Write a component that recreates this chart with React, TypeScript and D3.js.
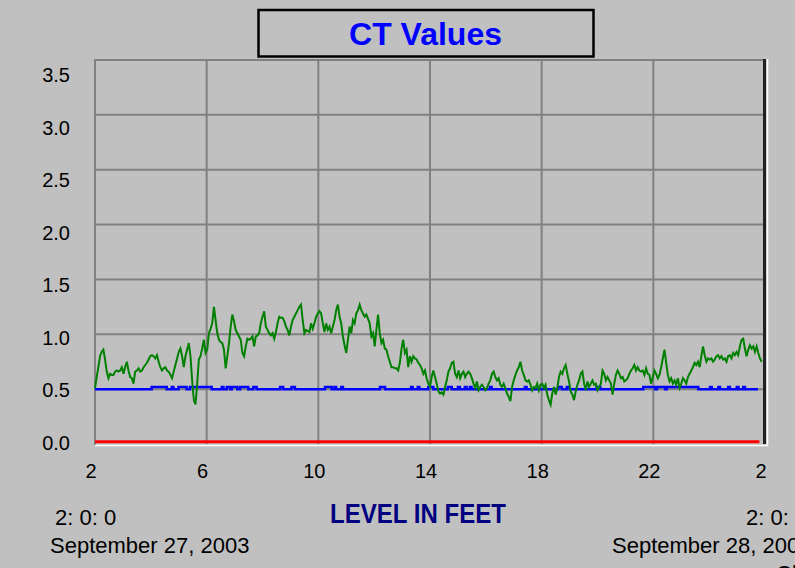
import React, { useEffect, useRef } from 'react';
import * as d3 from 'd3';

// axis ticks
const yTicks = [0, 0.5, 1, 1.5, 2, 2.5, 3, 3.5];
const xTicks = [2, 6, 10, 14, 18, 22, 26];
const xTickLabels = ['2', '6', '10', '14', '18', '22', '2'];

// text
const chartTitle = 'CT Values';
const xTitle = 'LEVEL IN FEET';
const startTime = '2: 0: 0';
const startDate = 'September 27, 2003';
const endTime = '2: 0: 0';
const endDate = 'September 28, 2003';

// green series: one sample every 3.6 minutes from 2:00
const sampleStart = 2;
const sampleStep = 0.06;
const greenValues = [
  0.51, 0.61, 0.70, 0.80, 0.84, 0.86, 0.77, 0.66, 0.60, 0.64,
  0.63, 0.63, 0.66, 0.67, 0.66, 0.67, 0.70, 0.64, 0.70, 0.75,
  0.67, 0.61, 0.60, 0.55, 0.66, 0.67, 0.69, 0.66, 0.67, 0.70,
  0.72, 0.74, 0.77, 0.80, 0.81, 0.80, 0.78, 0.81, 0.75, 0.70,
  0.67, 0.69, 0.70, 0.67, 0.66, 0.63, 0.60, 0.66, 0.72, 0.78,
  0.84, 0.87, 0.80, 0.70, 0.80, 0.86, 0.92, 0.80, 0.58, 0.40,
  0.36, 0.55, 0.77, 0.80, 0.87, 0.95, 0.83, 0.86, 1.01, 1.05,
  1.10, 1.25, 1.13, 1.01, 0.95, 0.93, 0.92, 0.86, 0.69, 0.80,
  0.92, 1.07, 1.18, 1.12, 1.04, 1.01, 0.98, 0.95, 0.83, 0.80,
  0.89, 0.96, 0.95, 0.96, 0.98, 0.89, 0.98, 0.99, 1.01, 1.10,
  1.16, 1.21, 1.07, 1.04, 1.01,
  0.99, 1.01, 0.96, 1.02, 1.10, 1.16, 1.15, 1.15, 1.12, 1.07,
  1.04, 0.99, 1.07, 1.13, 1.16, 1.19, 1.22, 1.25, 1.27, 1.13,
  1.01, 1.04, 1.03, 1.02, 1.10, 1.05, 1.10, 1.16, 1.19, 1.21,
  1.19, 1.10, 1.02, 1.10, 1.04, 1.07, 1.01, 1.07, 1.13, 1.22,
  1.27, 1.16, 1.10, 0.98, 0.90, 0.83, 0.95, 1.07, 1.01, 1.13,
  1.10, 1.19, 1.22, 1.27, 1.22, 1.19, 1.16, 1.18, 1.14, 1.10,
  0.98, 1.01, 0.89, 1.04, 1.18, 1.01, 0.92, 0.95, 0.87, 0.86,
  0.80, 0.75, 0.70, 0.70, 0.69, 0.69, 0.67, 0.74, 0.87, 0.95,
  0.83, 0.86, 0.70, 0.80, 0.75, 0.80, 0.78, 0.77, 0.74, 0.72,
  0.69, 0.64, 0.67, 0.60, 0.55, 0.52, 0.61, 0.67, 0.61, 0.55,
  0.48, 0.46,
  0.47, 0.45, 0.52, 0.58, 0.66, 0.69, 0.74, 0.75, 0.64, 0.61,
  0.67, 0.60, 0.64, 0.66, 0.61, 0.64, 0.66, 0.64, 0.60, 0.55,
  0.51, 0.57, 0.49, 0.52, 0.54, 0.52, 0.49, 0.51, 0.55, 0.58,
  0.64, 0.66, 0.61, 0.58, 0.60, 0.54, 0.52, 0.55, 0.51, 0.46,
  0.43, 0.39, 0.52, 0.58, 0.63, 0.67, 0.70, 0.75, 0.67, 0.63,
  0.58, 0.57, 0.58, 0.54, 0.49, 0.52, 0.51, 0.55, 0.49, 0.54,
  0.55, 0.51, 0.54, 0.45, 0.40, 0.36, 0.46, 0.52, 0.45, 0.51,
  0.61, 0.66, 0.64, 0.69, 0.72, 0.64, 0.57, 0.48, 0.45, 0.40,
  0.48, 0.54, 0.58, 0.64, 0.66, 0.55, 0.49, 0.57, 0.52, 0.55,
  0.58, 0.54, 0.55, 0.49, 0.52, 0.55, 0.67, 0.64, 0.58, 0.61,
  0.58, 0.55,
  0.45, 0.55, 0.63, 0.67, 0.64, 0.60, 0.61, 0.57, 0.58, 0.60,
  0.64, 0.67, 0.69, 0.72, 0.67, 0.70, 0.67, 0.66, 0.67, 0.63,
  0.69, 0.64, 0.63, 0.55, 0.61, 0.67, 0.64, 0.60, 0.63, 0.70,
  0.78, 0.86, 0.74, 0.63, 0.57, 0.60, 0.55, 0.58, 0.54, 0.60,
  0.51, 0.55, 0.60, 0.58, 0.55, 0.61, 0.64, 0.67, 0.70, 0.74,
  0.72, 0.75, 0.70, 0.80, 0.89, 0.81, 0.75, 0.78, 0.77, 0.78,
  0.75, 0.77, 0.80, 0.81, 0.78, 0.80, 0.77, 0.78, 0.75, 0.80,
  0.81, 0.78, 0.83, 0.81, 0.84, 0.81, 0.89, 0.95, 0.96, 0.87,
  0.80, 0.86, 0.90, 0.87, 0.89, 0.84, 0.89, 0.83, 0.78, 0.75,
];

// blue series as [hour, value] steps (value holds until next step)
const blueSteps: [number, number][] = [
  [2.0, 0.5], [4.03, 0.52], [4.57, 0.5], [4.75, 0.52], [4.81, 0.5], [4.99, 0.52], [5.28, 0.5],
  [5.4, 0.52], [6.18, 0.5], [6.54, 0.52], [6.6, 0.5], [6.72, 0.52], [6.84, 0.5], [6.9, 0.52],
  [7.1, 0.5], [7.2, 0.52], [7.49, 0.5], [7.67, 0.52], [7.79, 0.5], [8.63, 0.52], [8.74, 0.5],
  [9.04, 0.52], [9.16, 0.5], [10.24, 0.52], [10.48, 0.5], [10.58, 0.52], [10.64, 0.5],
  [10.82, 0.52], [10.88, 0.5], [12.21, 0.52], [12.39, 0.5], [13.32, 0.52], [13.38, 0.5],
  [13.56, 0.52], [13.62, 0.5], [13.94, 0.52], [14.12, 0.5], [14.64, 0.52], [14.78, 0.5],
  [15.0, 0.52], [15.07, 0.5], [15.25, 0.52], [15.31, 0.5], [15.43, 0.52], [15.49, 0.5],
  [16.15, 0.52], [16.21, 0.5], [17.4, 0.52], [17.46, 0.5], [18.59, 0.52], [18.72, 0.5],
  [18.9, 0.52], [19.0, 0.5], [19.97, 0.52], [20.1, 0.5], [21.64, 0.52], [22.06, 0.5],
  [22.13, 0.52], [22.42, 0.5], [22.48, 0.52], [23.61, 0.5], [24.03, 0.52], [24.09, 0.5],
  [24.33, 0.52], [24.39, 0.5], [24.68, 0.52], [24.74, 0.5], [24.99, 0.52], [25.05, 0.5],
  [25.22, 0.52], [25.28, 0.5], [25.75, 0.5],
];

// red series, flat near zero
const redPoints: [number, number][] = [[2, 0.02], [25.8, 0.02]];

const font = '"Liberation Sans", Arial, sans-serif';

const App = () => {
  const svgRef = useRef<SVGSVGElement>(null);

  useEffect(() => {
    const width = 795;
    const height = 568;
    const left = 95;
    const right = 765;
    const top = 60;
    const bottom = 444;

    const x = d3.scaleLinear().domain([2, 26]).range([left, right]);
    const y = d3.scaleLinear().domain([0, 3.5]).range([bottom, top]);
    // the tick labels of the original sit on a slightly different spacing than the grid
    const yLabel = d3.scaleLinear().domain([0, 3.5]).range([443, 75]);

    const svg = d3.select(svgRef.current);
    svg.selectAll('*').remove();

    svg.append('rect').attr('width', width).attr('height', height).attr('fill', '#c0c0c0');

    // grid lines
    svg.append('g')
      .selectAll('line')
      .data(yTicks.slice(1, -1))
      .enter().append('line')
      .attr('x1', left).attr('x2', right)
      .attr('y1', d => y(d)).attr('y2', d => y(d))
      .attr('stroke', '#808080').attr('stroke-width', 2);
    svg.append('g')
      .selectAll('line')
      .data(xTicks.slice(1, -1))
      .enter().append('line')
      .attr('x1', d => x(d)).attr('x2', d => x(d))
      .attr('y1', top).attr('y2', bottom)
      .attr('stroke', '#808080').attr('stroke-width', 2);

    // frame top / left
    svg.append('path')
      .attr('d', `M${left},${bottom + 1}V${top}H${right}`)
      .attr('fill', 'none').attr('stroke', '#808080').attr('stroke-width', 2);

    // series
    const line = d3.line<[number, number]>().x(d => x(d[0])).y(d => y(d[1]));
    const green: [number, number][] = greenValues.map((v, i) => [sampleStart + i * sampleStep, v]);

    svg.append('path')
      .attr('d', line(redPoints))
      .attr('fill', 'none').attr('stroke', '#ff0000').attr('stroke-width', 3);
    svg.append('path')
      .attr('d', line.curve(d3.curveStepAfter)(blueSteps))
      .attr('fill', 'none').attr('stroke', '#0000ff').attr('stroke-width', 2.5);
    svg.append('path')
      .attr('d', line.curve(d3.curveLinear)(green))
      .attr('fill', 'none').attr('stroke', '#008000').attr('stroke-width', 2)
      .attr('stroke-linejoin', 'miter');

    // frame right / bottom (3D look)
    svg.append('line')
      .attr('x1', right - 0.5).attr('x2', right - 0.5)
      .attr('y1', top - 1).attr('y2', bottom)
      .attr('stroke', '#222').attr('stroke-width', 3);
    svg.append('path')
      .attr('d', `M${left},${bottom + 1.5}H${right + 2.5}V${top - 1}`)
      .attr('fill', 'none').attr('stroke', '#ffffff').attr('stroke-width', 1.5);

    // y tick labels
    svg.append('g')
      .selectAll('text')
      .data(yTicks)
      .enter().append('text')
      .attr('x', 70)
      .attr('y', d => yLabel(d) + 7)
      .attr('text-anchor', 'end')
      .style('font-family', font).style('font-size', '20px')
      .attr('fill', '#000')
      .text(d => d3.format('.1f')(d));

    // x tick labels
    svg.append('g')
      .selectAll('text')
      .data(xTicks)
      .enter().append('text')
      .attr('x', d => x(d) - 4)
      .attr('y', 478)
      .attr('text-anchor', 'middle')
      .style('font-family', font).style('font-size', '20px')
      .attr('fill', '#000')
      .text((d, i) => xTickLabels[i]);

    // title box
    svg.append('rect')
      .attr('x', 258.5).attr('y', 10).attr('width', 335).attr('height', 46.5)
      .attr('fill', 'none').attr('stroke', '#000').attr('stroke-width', 2.5);
    svg.append('text')
      .attr('x', 425.5).attr('y', 44.5)
      .attr('text-anchor', 'middle')
      .style('font-family', font).style('font-size', '32px').style('font-weight', 'bold')
      .attr('fill', '#0000ff')
      .text(chartTitle);

    // x axis title
    svg.append('text')
      .attr('x', 330).attr('y', 523)
      .attr('textLength', 176).attr('lengthAdjust', 'spacingAndGlyphs')
      .style('font-family', font).style('font-size', '27px').style('font-weight', 'bold')
      .attr('fill', '#000080')
      .text(xTitle);

    // start / end time stamps
    const stamp = (tx: number, ty: number, s: string) => svg.append('text')
      .attr('x', tx).attr('y', ty)
      .style('font-family', font).style('font-size', '22px')
      .attr('fill', '#000')
      .text(s);
    stamp(55, 525, startTime);
    stamp(50, 553, startDate);
    stamp(746, 525, endTime);
    stamp(612, 553, endDate);
    stamp(776, 581, 'Cl');
  }, []);

  return (
    <div style={{ position: 'absolute', left: 0, top: 0 }}>
      <svg ref={svgRef} width={795} height={568} style={{ display: 'block' }} />
    </div>
  );
};

export default App;
